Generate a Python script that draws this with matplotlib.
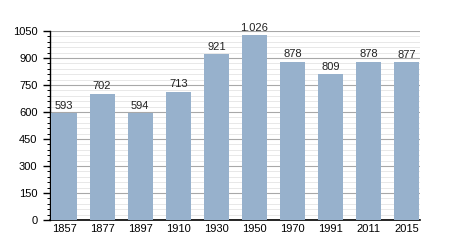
import numpy as np
import matplotlib.pyplot as plt
from matplotlib.ticker import MultipleLocator

plt.rcParams['font.family'] = ['Liberation Sans', 'DejaVu Sans']

years = ['1857', '1877', '1897', '1910', '1930', '1950', '1970', '1991', '2011', '2015']
population = [593, 702, 594, 713, 921, 1026, 878, 809, 878, 877]
value_labels = ['593', '702', '594', '713', '921', '1.026', '878', '809', '878', '877']

fig = plt.figure(figsize=(4.5, 2.5), dpi=100)
ax = fig.add_axes([0.111, 0.12, 0.822, 0.756])

x = np.arange(len(years))
ax.bar(x, population, width=0.66, color='#97b1cc', zorder=3)
for xi, v, lab in zip(x, population, value_labels):
    ax.text(xi, v + 14, lab, ha='center', va='bottom', fontsize=8, color='#222222')

ax.set_xlim(-0.37, 9.34)
ax.set_ylim(0, 1050)
ax.set_xticks(x)
ax.set_xticklabels(years, fontsize=8)
ax.yaxis.set_major_locator(MultipleLocator(150))
ax.yaxis.set_minor_locator(MultipleLocator(30))
ax.tick_params(axis='y', labelsize=8, length=5, width=1, pad=4)
ax.tick_params(axis='y', which='minor', length=2.5, width=0.7)
ax.tick_params(axis='x', length=0, pad=3)

ax.grid(axis='y', which='major', color='#a8a8a8', linewidth=0.8, zorder=0)
ax.grid(axis='y', which='minor', color='#e4e4e4', linewidth=0.6, zorder=0)

for side in ['top', 'right']:
    ax.spines[side].set_visible(False)
ax.spines['left'].set_linewidth(1.0)
ax.spines['bottom'].set_linewidth(1.2)
ax.set_axisbelow(True)

fig.savefig('out.png', dpi=100)
